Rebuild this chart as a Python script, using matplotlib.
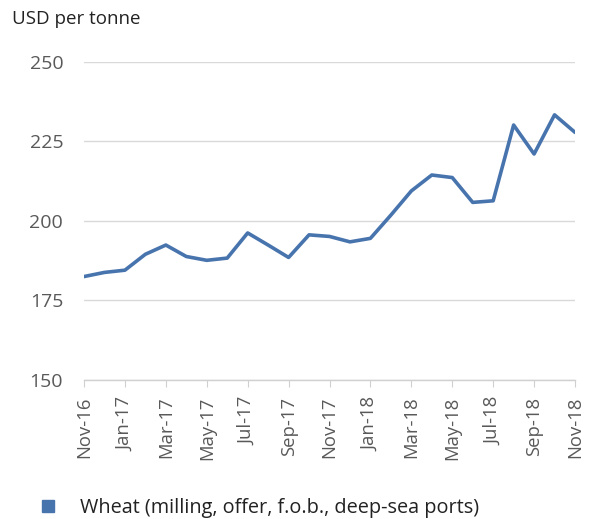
import matplotlib
matplotlib.use("Agg")
import matplotlib.pyplot as plt
from matplotlib.patches import Patch

months = ["Nov-16", "Dec-16", "Jan-17", "Feb-17", "Mar-17", "Apr-17", "May-17", "Jun-17",
          "Jul-17", "Aug-17", "Sep-17", "Oct-17", "Nov-17", "Dec-17", "Jan-18", "Feb-18",
          "Mar-18", "Apr-18", "May-18", "Jun-18", "Jul-18", "Aug-18", "Sep-18", "Oct-18",
          "Nov-18"]
wheat = [182.5, 183.8, 184.5, 189.5, 192.4, 188.8, 187.6, 188.3, 196.2, 192.4, 188.5,
         195.6, 195.1, 193.4, 194.5, 201.8, 209.4, 214.4, 213.6, 205.8, 206.3, 230.1,
         221.0, 233.3, 227.8]
yticks = [150, 175, 200, 225, 250]
series_name = "Wheat (milling, offer, f.o.b., deep-sea ports)"
unit_label = "USD per tonne"

plt.rcParams['font.family'] = ['Open Sans', 'DejaVu Sans']

fig = plt.figure(figsize=(5.93, 5.19), dpi=100)
ax = fig.add_axes([84 / 593, 1 - 380 / 519, (575 - 84) / 593, (380 - 61.7) / 519])

color = "#4874ae"
x = list(range(len(months)))
ax.plot(x, wheat, color=color, lw=2.6, solid_joinstyle="round", solid_capstyle="round", zorder=3)

ax.set_xlim(0, len(months) - 1)
ax.set_ylim(150, 250)
ax.set_yticks(yticks)
ax.set_yticklabels([str(v) for v in yticks])
ax.set_xticks(x[::2])
ax.set_xticklabels(months[::2], rotation=90)

ax.grid(axis="y", color="#d9d9d9", lw=1.0)
ax.set_axisbelow(True)
for s in ["top", "right", "left"]:
    ax.spines[s].set_visible(False)
ax.spines["bottom"].set_color("#d0d0d0")
ax.spines["bottom"].set_linewidth(1.0)

ax.tick_params(axis="y", length=0, pad=15, labelsize=14, labelcolor="#595959")
ax.tick_params(axis="x", length=5, color="#d0d0d0", pad=7, labelsize=13.3, labelcolor="#595959")

fig.text(12 / 593, 1 - 19 / 519, unit_label, fontsize=13.5, color="#222222",
         ha="left", va="center")

fig.legend(handles=[Patch(facecolor=color, edgecolor=color)], labels=[series_name],
           loc="center left", bbox_to_anchor=(42 / 593, 1 - 508 / 519), frameon=False,
           fontsize=14.3, handlelength=0.6, handleheight=0.6, handletextpad=1.3,
           labelcolor="#222222", borderpad=0, borderaxespad=0)

fig.savefig("out.png", dpi=100)
